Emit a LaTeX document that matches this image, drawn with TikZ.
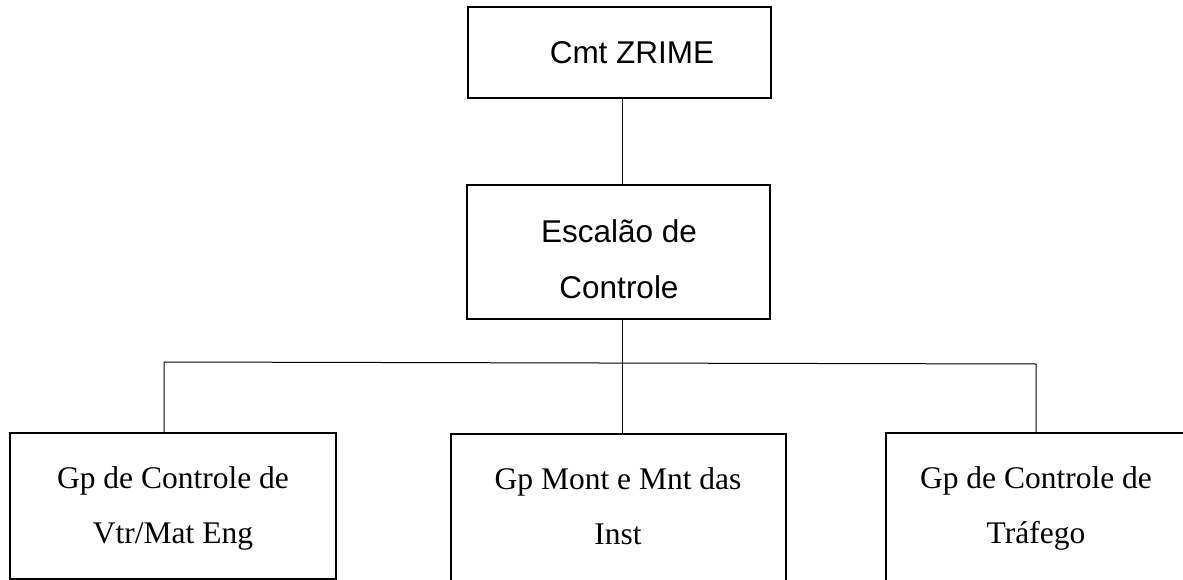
\documentclass[tikz,border=0pt]{standalone}
\usepackage{fontspec}
\setmainfont{Liberation Serif}
\newfontfamily\arialfont{Liberation Sans}
\begin{document}
\begin{tikzpicture}[x=1pt,y=-1pt,
  box/.style={draw=black, line width=1.4pt, rectangle, inner sep=0pt},
  conn/.style={draw=black, line width=1pt},
  sanslbl/.style={font=\arialfont\fontsize{31.5}{56}\selectfont, align=center, inner sep=0pt, anchor=base},
  seriflbl/.style={font=\fontsize{31.5}{55}\selectfont, align=center, inner sep=0pt, anchor=base}]
\useasboundingbox (0,0) rectangle (1183,580);
\clip (0,0) rectangle (1183,580);
% boxes
\node[box, minimum width=303pt, minimum height=91pt] (top) at (619.5,52.5) {};
\node[box, minimum width=303pt, minimum height=134pt] (mid) at (618.5,252) {};
\node[box, minimum width=326pt, minimum height=146pt] (bl) at (173,506) {};
\node[box, minimum width=335pt, minimum height=148pt] (bm) at (618.5,508) {};
\node[box, minimum width=300pt, minimum height=149pt] (br) at (1036,507.5) {};
% texts (anchored at the baseline of the last line)
\node[sanslbl] (ttop) at (632,64) {Cmt ZRIME};
\node[sanslbl] (tmid) at (619,298) {Escalão de\\Controle};
\node[seriflbl] (tbl) at (173,543) {Gp de Controle de\\Vtr/Mat Eng};
\node[seriflbl] (tbm) at (618,544) {Gp Mont e Mnt das\\Inst};
\node[seriflbl] (tbr) at (1036,543) {Gp de Controle de\\Tráfego};
% connectors
\coordinate (vx) at (622,0);
\coordinate (hl) at (164,362);
\coordinate (hr) at (1036,364);
\draw[conn] (top.south -| vx) -- (mid.north -| vx);
\draw[conn] (mid.south -| vx) -- (bm.north -| vx);
\draw[conn] (bl.north -| hl) -- (hl) -- (hr) -- (br.north -| hr);
\end{tikzpicture}
\end{document}
